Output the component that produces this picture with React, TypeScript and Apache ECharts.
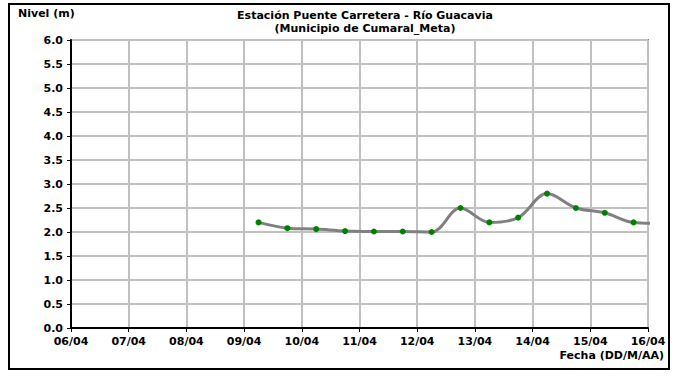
import React, { useEffect, useRef } from "react";
import * as echarts from "echarts";

const dayLabels = ["06/04", "07/04", "08/04", "09/04", "10/04", "11/04", "12/04", "13/04", "14/04", "15/04", "16/04"];
const times = [
  "09/04 06:00", "09/04 18:00", "10/04 06:00", "10/04 18:00", "11/04 06:00", "11/04 18:00",
  "12/04 06:00", "12/04 18:00", "13/04 06:00", "13/04 18:00", "14/04 06:00", "14/04 18:00",
  "15/04 06:00", "15/04 18:00", "16/04 06:00",
];
const levels = [2.2, 2.08, 2.06, 2.02, 2.01, 2.01, 2.0, 2.5, 2.2, 2.3, 2.8, 2.5, 2.4, 2.2, 2.18];
const yTicks = [0, 0.5, 1, 1.5, 2, 2.5, 3, 3.5, 4, 4.5, 5, 5.5, 6];

const FONT = "'DejaVu Sans', 'Liberation Sans', Arial, sans-serif";

function toDayOffset(t: string): number {
  const [d, h] = t.split(" ");
  const idx = dayLabels.indexOf(d);
  const [hh, mm] = h.split(":").map(Number);
  return idx + (hh + mm / 60) / 24;
}

export default function App() {
  const ref = useRef<HTMLDivElement>(null);
  useEffect(() => {
    document.body.style.margin = "0";
    const chart = echarts.init(ref.current!, null, { renderer: "svg" });
    const data = times.map((t, i) => [toDayOffset(t), levels[i]]);
    chart.setOption({
      animation: false,
      backgroundColor: "#ffffff",
      title: {
        text: "Estación Puente Carretera - Río Guacavia\n(Municipio de Cumaral_Meta)",
        left: 360,
        top: 4,
        textAlign: "center",
        textStyle: { fontFamily: FONT, fontSize: 11, fontWeight: "bold", color: "#000", lineHeight: 13 },
      },
      graphic: [
        { type: "rect", shape: { x: 9, y: 4, width: 660, height: 365 }, style: { fill: "none", stroke: "#000", lineWidth: 2 }, silent: true },
        { type: "text", left: 18, top: 8, style: { text: "Nivel (m)", font: `bold 11px ${FONT}`, fill: "#000" } },
        { type: "text", right: 15, top: 350, style: { text: "Fecha (DD/M/AA)", font: `bold 11px ${FONT}`, fill: "#000" } },
      ],
      grid: { left: 71, right: 31, top: 40, bottom: 49, show: true, borderColor: "#808080", borderWidth: 2, backgroundColor: "#fff" },
      xAxis: {
        type: "value",
        min: 0,
        max: dayLabels.length - 1,
        interval: 1,
        axisLine: { show: true, lineStyle: { color: "#000", width: 2 } },
        axisTick: { show: true, length: 4, lineStyle: { color: "#000" } },
        axisLabel: {
          fontFamily: FONT, fontSize: 11, fontWeight: "bold", color: "#000", margin: 8,
          formatter: (v: number) => dayLabels[Math.round(v)] ?? "",
        },
        splitLine: { show: true, lineStyle: { color: "#c0c0c0", width: 2 } },
      },
      yAxis: {
        type: "value",
        min: yTicks[0],
        max: yTicks[yTicks.length - 1],
        interval: 0.5,
        axisLine: { show: true, lineStyle: { color: "#000", width: 2 } },
        axisTick: { show: true, length: 4, lineStyle: { color: "#000" } },
        axisLabel: {
          fontFamily: FONT, fontSize: 11, fontWeight: "bold", color: "#000", margin: 8,
          formatter: (v: number) => v.toFixed(1),
        },
        splitLine: { show: true, lineStyle: { color: "#c0c0c0", width: 2 } },
      },
      series: [
        {
          type: "line",
          data,
          smooth: 0.35,
          clip: true,
          symbol: "circle",
          symbolSize: 6,
          lineStyle: { color: "#808080", width: 3 },
          itemStyle: { color: "#008000", borderWidth: 0 },
        },
      ],
    });
    return () => chart.dispose();
  }, []);
  return <div ref={ref} style={{ position: "absolute", left: 0, top: 0, width: 679, height: 377 }} />;
}
